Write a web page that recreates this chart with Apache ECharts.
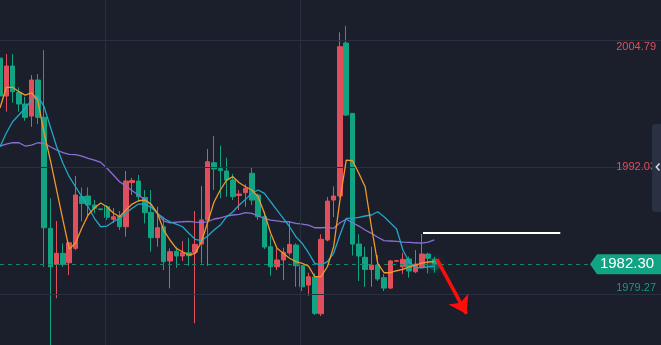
<!DOCTYPE html>
<html>
<head>
<meta charset="utf-8">
<script src="https://cdn.jsdelivr.net/npm/echarts@6/dist/echarts.min.js"></script>
<style>
html,body{margin:0;padding:0;background:#1b1f2c;}
#c{width:661px;height:345px;}
</style>
</head>
<body>
<div id="c"></div>
<script>
// ---- data ----
// candles: [open, close, low, high]
const candles = [
[2003.00,1999.20,1997.80,2003.50],
[1999.19,2002.21,1997.62,2003.41],
[2002.21,1999.63,1998.52,2003.41],
[1999.56,1998.39,1997.62,2000.07],
[1998.39,1997.05,1996.71,1999.12],
[1997.18,2000.80,1996.11,2001.30],
[2000.80,1997.05,1996.38,2001.40],
[1997.05,1985.96,1982.04,2003.81],
[1985.90,1982.04,1974.00,1988.92],
[1982.28,1983.39,1978.87,1986.63],
[1983.39,1982.28,1982.04,1984.39],
[1982.44,1984.45,1981.21,1984.55],
[1983.89,1989.25,1983.70,1991.16],
[1989.10,1988.40,1986.60,1990.00],
[1989.15,1988.24,1987.07,1990.02],
[1988.24,1987.91,1987.41,1988.74],
[1987.85,1987.80,1987.70,1987.90],
[1988.07,1987.01,1986.74,1988.24],
[1986.81,1987.07,1986.43,1987.94],
[1987.10,1986.06,1985.73,1987.64],
[1986.06,1990.65,1985.06,1991.66],
[1990.50,1990.70,1989.25,1990.98],
[1990.65,1989.08,1988.57,1991.26],
[1989.00,1987.47,1986.40,1989.75],
[1987.50,1984.96,1983.55,1989.75],
[1984.96,1985.96,1984.05,1988.07],
[1986.06,1982.55,1981.71,1987.07],
[1982.62,1983.55,1979.87,1983.89],
[1983.60,1983.12,1981.94,1984.05],
[1983.12,1983.45,1982.62,1984.62],
[1983.45,1983.15,1982.14,1984.93],
[1983.49,1984.29,1976.36,1987.64],
[1984.32,1986.74,1982.38,1990.15],
[1986.74,1992.59,1982.14,1993.87],
[1992.49,1991.86,1989.75,1995.17],
[1991.90,1991.70,1988.92,1994.20],
[1991.66,1990.75,1989.08,1993.00],
[1990.75,1989.08,1988.74,1991.36],
[1989.20,1989.35,1987.74,1989.75],
[1989.48,1989.92,1988.07,1990.32],
[1991.43,1988.74,1988.24,1992.03],
[1989.25,1987.07,1986.74,1989.40],
[1987.07,1984.02,1983.82,1987.57],
[1984.05,1982.04,1981.14,1985.16],
[1982.04,1982.72,1981.71,1983.89],
[1982.72,1983.49,1980.71,1983.95],
[1983.42,1984.29,1983.17,1986.56],
[1984.22,1982.14,1980.03,1984.40],
[1982.14,1980.03,1979.60,1982.20],
[1980.20,1981.04,1979.13,1981.44],
[1981.01,1977.36,1977.19,1981.38],
[1977.32,1984.80,1977.09,1985.30],
[1984.73,1988.64,1984.60,1989.05],
[1988.74,1989.15,1987.04,1990.12],
[1989.15,2004.15,1989.00,2005.59],
[2004.52,1997.28,1997.20,2006.23],
[1997.45,1984.32,1983.17,1997.45],
[1984.32,1983.12,1980.61,1985.30],
[1982.99,1981.76,1980.03,1984.05],
[1981.76,1982.21,1980.03,1984.05],
[1982.21,1980.81,1980.61,1983.22],
[1980.94,1979.90,1979.60,1981.31],
[1979.90,1982.62,1979.80,1982.72],
[1982.60,1982.65,1982.55,1982.70],
[1982.04,1982.79,1981.31,1983.45],
[1982.82,1981.61,1980.94,1983.07],
[1981.54,1982.31,1981.41,1983.72],
[1982.04,1983.32,1981.91,1985.33],
[1983.32,1982.89,1981.38,1983.45],
[1982.79,1982.30,1981.44,1983.05]
];
const maFast = [1997.99,2000.07,2000.07,1999.63,1999.29,1999.52,1998.79,1995.48,1992.76,1989.75,
1986.73,1983.82,1984.42,1985.93,1987.24,1987.94,1988.44,1988.04,1987.44,1987.07,
1987.74,1988.34,1988.67,1988.74,1988.34,1987.41,1985.73,1984.73,1983.89,1983.55,
1983.22,1983.39,1984.55,1986.53,1988.54,1989.75,1990.75,1991.09,1990.48,1990.08,
1989.75,1989.08,1987.41,1985.40,1983.89,1983.39,1982.89,1982.55,1982.38,1982.11,
1981.04,1981.04,1982.04,1984.05,1988.74,1992.76,1992.69,1991.43,1990.08,1986.06,
1982.38,1981.44,1981.44,1981.64,1981.78,1982.04,1982.21,1982.41,1982.52,1982.55];
const maMid = [1994.10,1995.48,1996.61,1997.28,1997.96,1998.79,1999.19,1998.12,1996.11,1994.10,
1992.43,1991.09,1990.08,1989.08,1988.07,1986.91,1986.06,1986.13,1986.56,1986.91,
1987.41,1987.91,1988.34,1988.34,1988.01,1987.41,1986.91,1986.56,1986.33,1986.06,
1985.40,1984.80,1984.66,1985.13,1985.73,1986.23,1987.07,1987.57,1988.24,1988.81,
1989.42,1989.75,1989.42,1988.57,1987.74,1986.91,1986.06,1985.06,1984.39,1983.45,
1982.38,1982.21,1982.55,1983.39,1985.23,1986.91,1986.91,1987.01,1987.14,1987.24,
1987.57,1987.07,1986.46,1985.83,1983.72,1982.52,1981.96,1981.94,1982.04,1982.11];
const maSlow = [1994.17,1994.37,1994.50,1994.50,1994.17,1994.27,1994.50,1994.44,1994.10,1993.77,
1993.50,1993.34,1993.30,1993.16,1992.93,1992.76,1992.53,1991.93,1991.26,1990.58,
1990.15,1989.68,1989.25,1988.81,1988.24,1987.41,1986.66,1986.46,1986.53,1986.56,
1986.60,1986.53,1986.48,1986.58,1986.84,1986.94,1987.14,1987.24,1987.31,1987.47,
1987.41,1987.14,1986.91,1986.73,1986.66,1986.56,1986.56,1986.40,1986.33,1986.23,
1985.96,1985.96,1986.00,1985.90,1986.46,1986.81,1986.46,1986.13,1985.73,1985.40,
1985.00,1984.66,1984.63,1984.59,1984.52,1984.49,1984.45,1984.42,1984.52,1984.73];
const tickLabels = ['2004.79','1992.03','1979.27'];
const lastPrice = 1982.30;
const slotCount = 106;            // candle slots across the chart
const timeDividers = [16.76, 47.75];
const levelLine = { from: 67.2, to: 89.0, price: 1985.46 };
const arrow = { x1: 69.4, y1: 1982.80, x2: 74.1, y2: 1977.30 };
const yMin = 1974.18, yMax = 2008.84;

// ---- colours ----
const BG = '#1b1f2c', GRID = '#283041', RED = '#e04f5b', GREEN = '#12a383';

const categories = [];
for (let i = 0; i < slotCount; i++) categories.push('k' + i);

const chart = echarts.init(document.getElementById('c'), null, {renderer: 'canvas'});
const gridMarks = tickLabels.map(function (t, i) {
  const pos = ['insideEndBottom', 'insideEnd', 'insideEndTop'][i];
  return {
    yAxis: parseFloat(t),
    label: {show: true, position: pos, formatter: t, color: i === 2 ? '#18997e' : RED,
      fontSize: 11, fontFamily: 'Liberation Sans, Arial, sans-serif', distance: [5, 1]}
  };
});
gridMarks.push({yAxis: lastPrice, label: {show: false},
  lineStyle: {type: [4, 4], color: '#16836d', width: 1}});

const lineStyleFor = function (c) { return {width: 1.3, color: c}; };

chart.setOption({
  backgroundColor: BG,
  animation: false,
  grid: {left: 0, right: -3, top: 0, bottom: 0},
  xAxis: [
    {type: 'category', data: categories, boundaryGap: false, show: false},
    {type: 'value', min: 0, max: slotCount - 1, show: false}
  ],
  yAxis: {type: 'value', min: yMin, max: yMax, show: false, splitLine: {show: false}},
  series: [
    {
      type: 'line', xAxisIndex: 1, data: [], silent: true,
      markLine: {
        silent: true, symbol: 'none', animation: false,
        label: {show: false},
        lineStyle: {color: GRID, width: 1, type: 'solid'},
        data: timeDividers.map(function (v) { return {xAxis: v}; })
      }
    },
    {
      type: 'candlestick', data: candles, barWidth: 5, z: 3,
      itemStyle: {color: RED, color0: GREEN, borderColor: RED, borderColor0: GREEN, borderWidth: 1},
      markLine: {
        silent: true, symbol: 'none', animation: false,
        lineStyle: {color: GRID, width: 1, type: 'solid'},
        data: gridMarks
      }
    },
    {type: 'line', data: maSlow, showSymbol: false, symbol: 'none', lineStyle: lineStyleFor('#8a6fd4'), z: 4},
    {type: 'line', data: maMid, showSymbol: false, symbol: 'none', lineStyle: lineStyleFor('#22a6c8'), z: 5},
    {type: 'line', data: maFast, showSymbol: false, symbol: 'none', lineStyle: lineStyleFor('#f0982c'), z: 6},
    {
      type: 'scatter', data: [[candles.length - 1, lastPrice]], symbolSize: 12, z: 2,
      itemStyle: {color: 'rgba(30,200,160,0.28)', shadowBlur: 10, shadowColor: 'rgba(30,210,170,0.9)'}
    },
    {
      type: 'line', xAxisIndex: 1, data: [], silent: true, z: 10,
      markLine: {
        silent: true, animation: false, label: {show: false},
        data: [
          [{coord: [levelLine.from, levelLine.price], symbol: 'none', lineStyle: {color: '#ffffff', width: 2, type: 'solid'}},
           {coord: [levelLine.to, levelLine.price], symbol: 'none'}],
          [{coord: [arrow.x1, arrow.y1], symbol: 'none', lineStyle: {color: '#ff0d0d', width: 3.5, type: 'solid'}},
           {coord: [arrow.x2, arrow.y2], symbol: 'arrow', symbolSize: 17}]
        ]
      }
    }
  ]
});

const py = chart.convertToPixel({yAxisIndex: 0}, lastPrice);
chart.setOption({
  graphic: [
    {type: 'polygon', z: 100, shape: {points: [[590, py], [597, py - 10], [661, py - 10], [661, py + 10], [597, py + 10]]},
     style: {fill: '#12a385'}},
    {type: 'text', z: 101, x: 627, y: py, style: {text: lastPrice.toFixed(2), fill: '#ffffff',
      font: '15px "Liberation Sans Narrow", "Arial Narrow", "Liberation Sans", Arial, sans-serif',
      textAlign: 'center', textVerticalAlign: 'middle'}},
    {type: 'rect', z: 100, shape: {x: 652, y: 124, width: 14, height: 88, r: 4}, style: {fill: '#2a3142'}},
    {type: 'polyline', z: 101, shape: {points: [[659.5, 163.5], [656.3, 167], [659.5, 170.5]]},
     style: {stroke: '#d9dde6', lineWidth: 1.5, fill: null}}
  ]
});
</script>
</body>
</html>
